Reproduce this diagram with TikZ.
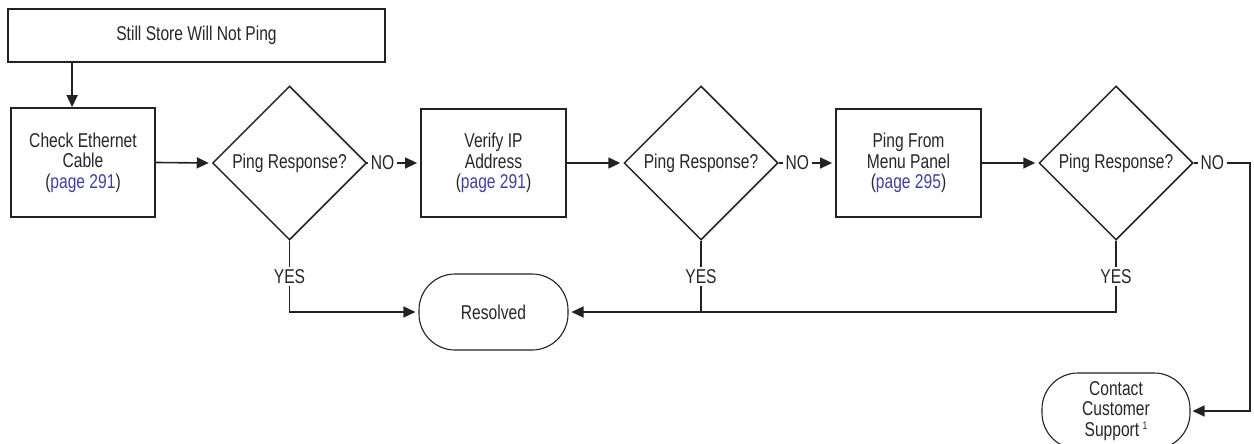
\documentclass[tikz,border=0pt]{standalone}
\usepackage{fontspec}
\setmainfont[FakeStretch=0.78]{Liberation Sans}
\usetikzlibrary{shapes.geometric,arrows.meta}
\definecolor{txt}{HTML}{262626}
\definecolor{ln}{HTML}{222222}
\definecolor{lnk}{HTML}{4040A0}
\newcommand{\pg}[1]{(\textcolor{lnk}{page #1})}
\begin{document}
\begin{tikzpicture}[x=1pt,y=-1pt,
  every node/.style={font=\fontsize{20}{20.5}\selectfont, text=txt, align=center},
  stepbox/.style={draw=ln, line width=1.8pt, rectangle, inner sep=0pt},
  decide/.style={draw=ln, line width=1.5pt, diamond, inner sep=0pt, minimum width=154pt, minimum height=154pt},
  term/.style={draw=ln, line width=1.1pt, rectangle, rounded corners=36pt, inner sep=0pt, minimum width=149pt, minimum height=76pt},
  arr/.style={draw=ln, line width=1.6pt, -{Triangle[length=12pt,width=11pt]}},
  lbl/.style={fill=white, inner sep=2.5pt}]
\useasboundingbox (0,0) rectangle (1254,444);
\node[stepbox, minimum width=377pt, minimum height=53pt] (top) at (196.5,35.5) {Still Store Will Not Ping};
\node[stepbox, minimum width=144pt, minimum height=109pt] (b1) at (83,162.5) {Check Ethernet\\Cable\\\pg{291}};
\node[decide] (d1) at (289.5,163) {Ping Response?};
\node[stepbox, minimum width=145pt, minimum height=108pt] (b2) at (493.5,163) {Verify IP\\Address\\\pg{291}};
\node[decide] (d2) at (701,163) {Ping Response?};
\node[stepbox, minimum width=145pt, minimum height=108pt] (b3) at (908.5,163) {Ping From\\Menu Panel\\\pg{295}};
\node[decide] (d3) at (1116,163) {Ping Response?};
\node[term] (res) at (493.5,312) {Resolved};
\node[term, minimum width=148pt] (cs) at (1116,411) {Contact\\Customer\\Support\,\raisebox{7pt}{\fontsize{11}{11}\selectfont 1}};
\coordinate (c1) at (1250,163);
\coordinate (j2) at (d2.south |- res.east);

\draw[arr] ([xshift=65pt]top.south west) -- ([xshift=62pt]b1.north west);
\draw[arr, shorten >=3pt] (b1.east) -- (d1.west);
\draw[arr, shorten >=3pt] (d1.east) -- node[lbl, pos=0.29] {NO} (b2.west);
\draw[arr, shorten >=3pt] (b2.east) -- (d2.west);
\draw[arr, shorten >=3pt] (d2.east) -- node[lbl, pos=0.33] {NO} (b3.west);
\draw[arr, shorten >=3pt] (b3.east) -- (d3.west);
\draw[arr, shorten >=2pt] (d3.east) -- node[lbl, pos=0.33] {NO} (c1) |- (cs.east);
\draw[arr, shorten >=3pt] (d1.south) -- node[lbl] {YES} (d1.south |- res.west) -- (res.west);
\draw[arr, shorten >=3pt] (d2.south) -- node[lbl] {YES} (j2) -- (res.east);
\draw[draw=ln, line width=1.6pt] (d3.south) -- node[lbl] {YES} (d3.south |- res.east) -- (j2);
\end{tikzpicture}
\end{document}
